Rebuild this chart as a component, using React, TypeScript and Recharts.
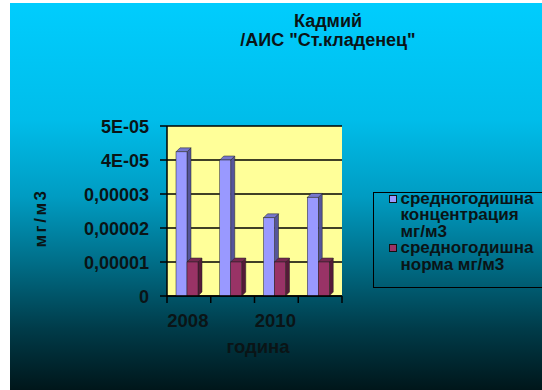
import { BarChart, Bar, XAxis, YAxis, CartesianGrid } from 'recharts';

const years = ['2008', '2009', '2010', '2011'];
const concentration = [0.0000424, 0.00004, 0.000023, 0.000029];
const norm = [0.00001, 0.00001, 0.00001, 0.00001];
const yTicks = [0, 0.00001, 0.00002, 0.00003, 0.00004, 0.00005];
const yTickLabels = ['0', '0,00001', '0,00002', '0,00003', '4E-05', '5E-05'];
const seriesNames = ['средногодишна концентрация мг/м3', 'средногодишна норма мг/м3'];
const seriesColors = ['#9999ff', '#993366'];

const data = years.map((year, i) => ({ year, conc: concentration[i], norm: norm[i] }));

const W = 542;
const H = 390;
const LEFT = 167;
const RIGHT = 200;
const TOP = 126;
const BOTTOM = 94;
const STEP = (W - LEFT - RIGHT) / years.length;
const FONT = "'Liberation Sans', Arial, sans-serif";
const INK = '#0a1416';

// front face + right side + top, the old excel 3d look
function Bar3D(props: any) {
  const { y, width, height, fill, side, top } = props;
  if (!height) return null;
  const x = props.x - 2;
  const d = 4;
  return (
    <g>
      <polygon
        points={`${x + width},${y} ${x + width + d},${y - d} ${x + width + d},${y + height - d} ${x + width},${y + height}`}
        fill={side}
        stroke="#222"
        strokeWidth={0.5}
      />
      <polygon
        points={`${x},${y} ${x + d},${y - d} ${x + width + d},${y - d} ${x + width},${y}`}
        fill={top}
        stroke="#222"
        strokeWidth={0.5}
      />
      <rect x={x} y={y} width={width} height={height} fill={fill} stroke="#222" strokeWidth={0.5} />
    </g>
  );
}

function YearTick(props: any) {
  const { x, y, payload, index } = props;
  const half = STEP / 2;
  return (
    <g>
      <line x1={x - half} y1={y} x2={x - half} y2={y + 7} stroke="#000" strokeWidth={1.5} />
      {index === years.length - 1 && (
        <line x1={x + half} y1={y} x2={x + half} y2={y + 7} stroke="#000" strokeWidth={1.5} />
      )}
      {index % 2 === 0 && (
        <text
          x={x - 1}
          y={y + 31}
          textAnchor="middle"
          fontFamily={FONT}
          fontWeight="bold"
          fontSize={18.5}
          fill={INK}
        >
          {payload.value}
        </text>
      )}
    </g>
  );
}

function ValueTick(props: any) {
  const { x, y, payload } = props;
  const i = yTicks.indexOf(payload.value);
  return (
    <text
      x={x}
      y={y}
      dy={6.5}
      textAnchor="end"
      fontFamily={FONT}
      fontWeight="bold"
      fontSize={18}
      fill={INK}
    >
      {yTickLabels[i]}
    </text>
  );
}

export default function App() {
  return (
    <div style={{ position: 'absolute', left: 0, top: 0, width: W, height: H, overflow: 'hidden', background: '#fff' }}>
      <div
        style={{
          position: 'absolute',
          left: 10,
          top: 3,
          width: W - 10,
          height: H - 3,
          background:
            'linear-gradient(180deg, #00cdfe 0%, #00bdea 30%, #009cc2 50%, #006e88 67%, #003c4a 84%, #00161a 100%)',
        }}
      />
      <div
        style={{
          position: 'absolute',
          left: 178,
          width: 300,
          top: 12,
          textAlign: 'center',
          fontFamily: FONT,
          fontWeight: 'bold',
          fontSize: 18,
          lineHeight: '19px',
          color: INK,
        }}
      >
        <div>Кадмий</div>
        <div>/АИС "Ст.кладенец"</div>
      </div>
      <div
        style={{
          position: 'absolute',
          left: 11,
          top: 208,
          width: 60,
          lineHeight: '20px',
          textAlign: 'center',
          transform: 'rotate(-90deg)',
          fontFamily: FONT,
          fontWeight: 'bold',
          fontSize: 17,
          letterSpacing: 2.5,
          color: INK,
        }}
      >
        мг/м3
      </div>
      <div
        style={{
          position: 'absolute',
          left: 208,
          width: 100,
          top: 337,
          lineHeight: '20px',
          textAlign: 'center',
          fontFamily: FONT,
          fontWeight: 'bold',
          fontSize: 18.5,
          color: INK,
        }}
      >
        година
      </div>
      <div
        style={{
          position: 'absolute',
          left: 373,
          top: 192,
          border: '1.5px solid #000',
          width: 200,
          height: 96,
          boxSizing: 'border-box',
          paddingLeft: 14.5,
          fontFamily: FONT,
          fontWeight: 'bold',
          fontSize: 17,
          color: INK,
          lineHeight: '16.5px',
        }}
      >
        {seriesNames.map((name, i) => (
          <div key={i} style={{ display: 'flex', alignItems: 'flex-start', marginTop: i ? 0 : -2.5 }}>
            <span
              style={{
                width: 8,
                height: 8,
                boxSizing: 'border-box',
                background: seriesColors[i],
                border: '1px solid #111',
                marginTop: 4,
                marginRight: 4,
                flexShrink: 0,
              }}
            />
            <span style={{ width: 140 }}>{name}</span>
          </div>
        ))}
      </div>
      <div style={{ position: 'absolute', left: 0, top: 0 }}>
        <BarChart
          width={W}
          height={H}
          data={data}
          margin={{ top: TOP, right: RIGHT, bottom: 0, left: 0 }}
          barGap={0}
          barCategoryGap="40%"
        >
          <CartesianGrid vertical={false} fill="#ffff99" stroke="#000" strokeWidth={1.5} />
          <XAxis
            dataKey="year"
            height={BOTTOM}
            interval={0}
            tickSize={0}
            tickMargin={0}
            tick={<YearTick />}
            axisLine={{ stroke: '#000', strokeWidth: 1.5 }}
          />
          <YAxis
            width={LEFT}
            domain={[0, 0.00005]}
            ticks={yTicks}
            interval={0}
            tickSize={7}
            tickMargin={11}
            tick={<ValueTick />}
            tickLine={{ stroke: '#000', strokeWidth: 1.5 }}
            axisLine={{ stroke: '#000', strokeWidth: 1.5 }}
          />
          <Bar
            dataKey="conc"
            name={seriesNames[0]}
            fill={seriesColors[0]}
            barSize={11}
            isAnimationActive={false}
            shape={(p: any) => <Bar3D {...p} side="#55559a" top="#7777cc" />}
          />
          <Bar
            dataKey="norm"
            name={seriesNames[1]}
            fill={seriesColors[1]}
            barSize={11}
            isAnimationActive={false}
            shape={(p: any) => <Bar3D {...p} side="#551a38" top="#772850" />}
          />
        </BarChart>
      </div>
    </div>
  );
}
